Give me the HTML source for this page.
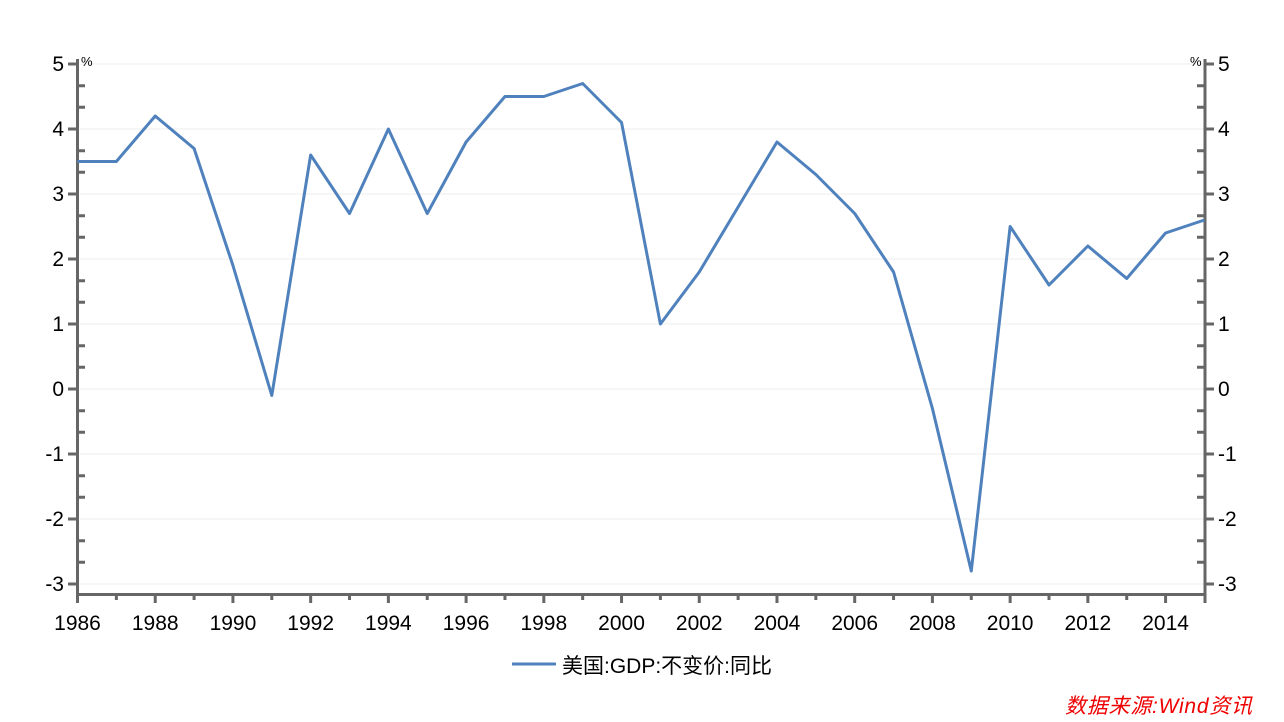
<!DOCTYPE html><html><head><meta charset="utf-8"><style>body{margin:0;background:#fff}svg{display:block}text{font-family:"Liberation Sans","Noto Sans CJK SC",sans-serif}</style></head><body>
<svg width="1284" height="722" xmlns="http://www.w3.org/2000/svg">
<g stroke="#ececec" stroke-width="1">
<path d="M80 64H1204M80 129H1204M80 194H1204M80 259H1204M80 324H1204M80 389H1204M80 454H1204M80 519H1204M80 584H1204"/>
</g>
<g stroke="#666" stroke-width="3" fill="none">
<path d="M68 64H78M68 129H78M68 194H78M68 259H78M68 324H78M68 389H78M68 454H78M68 519H78M68 584H78"/>
<path d="M1204 64H1214M1204 129H1214M1204 194H1214M1204 259H1214M1204 324H1214M1204 389H1214M1204 454H1214M1204 519H1214M1204 584H1214"/>
<path d="M78 85.7H85M78 107.3H85M78 150.7H85M78 172.3H85M78 215.7H85M78 237.3H85M78 280.7H85M78 302.3H85M78 345.7H85M78 367.3H85M78 410.7H85M78 432.3H85M78 475.7H85M78 497.3H85M78 540.7H85M78 562.3H85"/>
<path d="M1197 85.7H1204M1197 107.3H1204M1197 150.7H1204M1197 172.3H1204M1197 215.7H1204M1197 237.3H1204M1197 280.7H1204M1197 302.3H1204M1197 345.7H1204M1197 367.3H1204M1197 410.7H1204M1197 432.3H1204M1197 475.7H1204M1197 497.3H1204M1197 540.7H1204M1197 562.3H1204"/>
<path d="M77.5 59V603M1205 59V603M76 594.5H1206"/>
<path d="M116.36 595V600M155.22 595V603M194.08 595V600M232.94 595V603M271.8 595V600M310.66 595V603M349.52 595V600M388.38 595V603M427.24 595V600M466.1 595V603M504.96 595V600M543.82 595V603M582.68 595V600M621.54 595V603M660.4 595V600M699.26 595V603M738.12 595V600M776.98 595V603M815.84 595V600M854.7 595V603M893.56 595V600M932.42 595V603M971.28 595V600M1010.14 595V603M1049 595V600M1087.86 595V603M1126.72 595V600M1165.58 595V603"/>
</g>
<g font-size="21" text-anchor="end">
<text x="64" y="71">5</text><text x="64" y="136">4</text><text x="64" y="201">3</text><text x="64" y="266">2</text><text x="64" y="331">1</text><text x="64" y="396">0</text><text x="64" y="461">-1</text><text x="64" y="526">-2</text><text x="64" y="591">-3</text>
</g>
<g font-size="21">
<text x="1218" y="71">5</text><text x="1218" y="136">4</text><text x="1218" y="201">3</text><text x="1218" y="266">2</text><text x="1218" y="331">1</text><text x="1218" y="396">0</text><text x="1218" y="461">-1</text><text x="1218" y="526">-2</text><text x="1218" y="591">-3</text>
</g>
<g font-size="21" text-anchor="middle">
<text x="77.5" y="630">1986</text><text x="155.22" y="630">1988</text><text x="232.94" y="630">1990</text><text x="310.66" y="630">1992</text><text x="388.38" y="630">1994</text><text x="466.1" y="630">1996</text><text x="543.82" y="630">1998</text><text x="621.54" y="630">2000</text><text x="699.26" y="630">2002</text><text x="776.98" y="630">2004</text><text x="854.7" y="630">2006</text><text x="932.42" y="630">2008</text><text x="1010.14" y="630">2010</text><text x="1087.86" y="630">2012</text><text x="1165.58" y="630">2014</text>
</g>
<text x="81" y="66" font-size="13">%</text><text x="1190" y="66" font-size="13">%</text>
<polyline fill="none" stroke="#4f81bd" stroke-width="3" stroke-linejoin="round" points="77.5,161.5 116.36,161.5 155.22,116 194.08,148.5 232.94,265.5 271.8,395.5 310.66,155 349.52,213.5 388.38,129 427.24,213.5 466.1,142 504.96,96.5 543.82,96.5 582.68,83.5 621.54,122.5 660.4,324 699.26,272 738.12,207 776.98,142 815.84,174.5 854.7,213.5 893.56,272 932.42,408.5 971.28,571 1010.14,226.5 1049,285 1087.86,246 1126.72,278.5 1165.58,233 1204.44,220"/>
<line x1="512" x2="556" y1="664" y2="664" stroke="#4f81bd" stroke-width="3"/>
<text x="562" y="673" font-size="21" textLength="210">美国:GDP:不变价:同比</text>
<text x="1252" y="713" font-size="21" fill="#e00" font-style="italic" text-anchor="end" textLength="187">数据来源:Wind资讯</text>
</svg></body></html>
